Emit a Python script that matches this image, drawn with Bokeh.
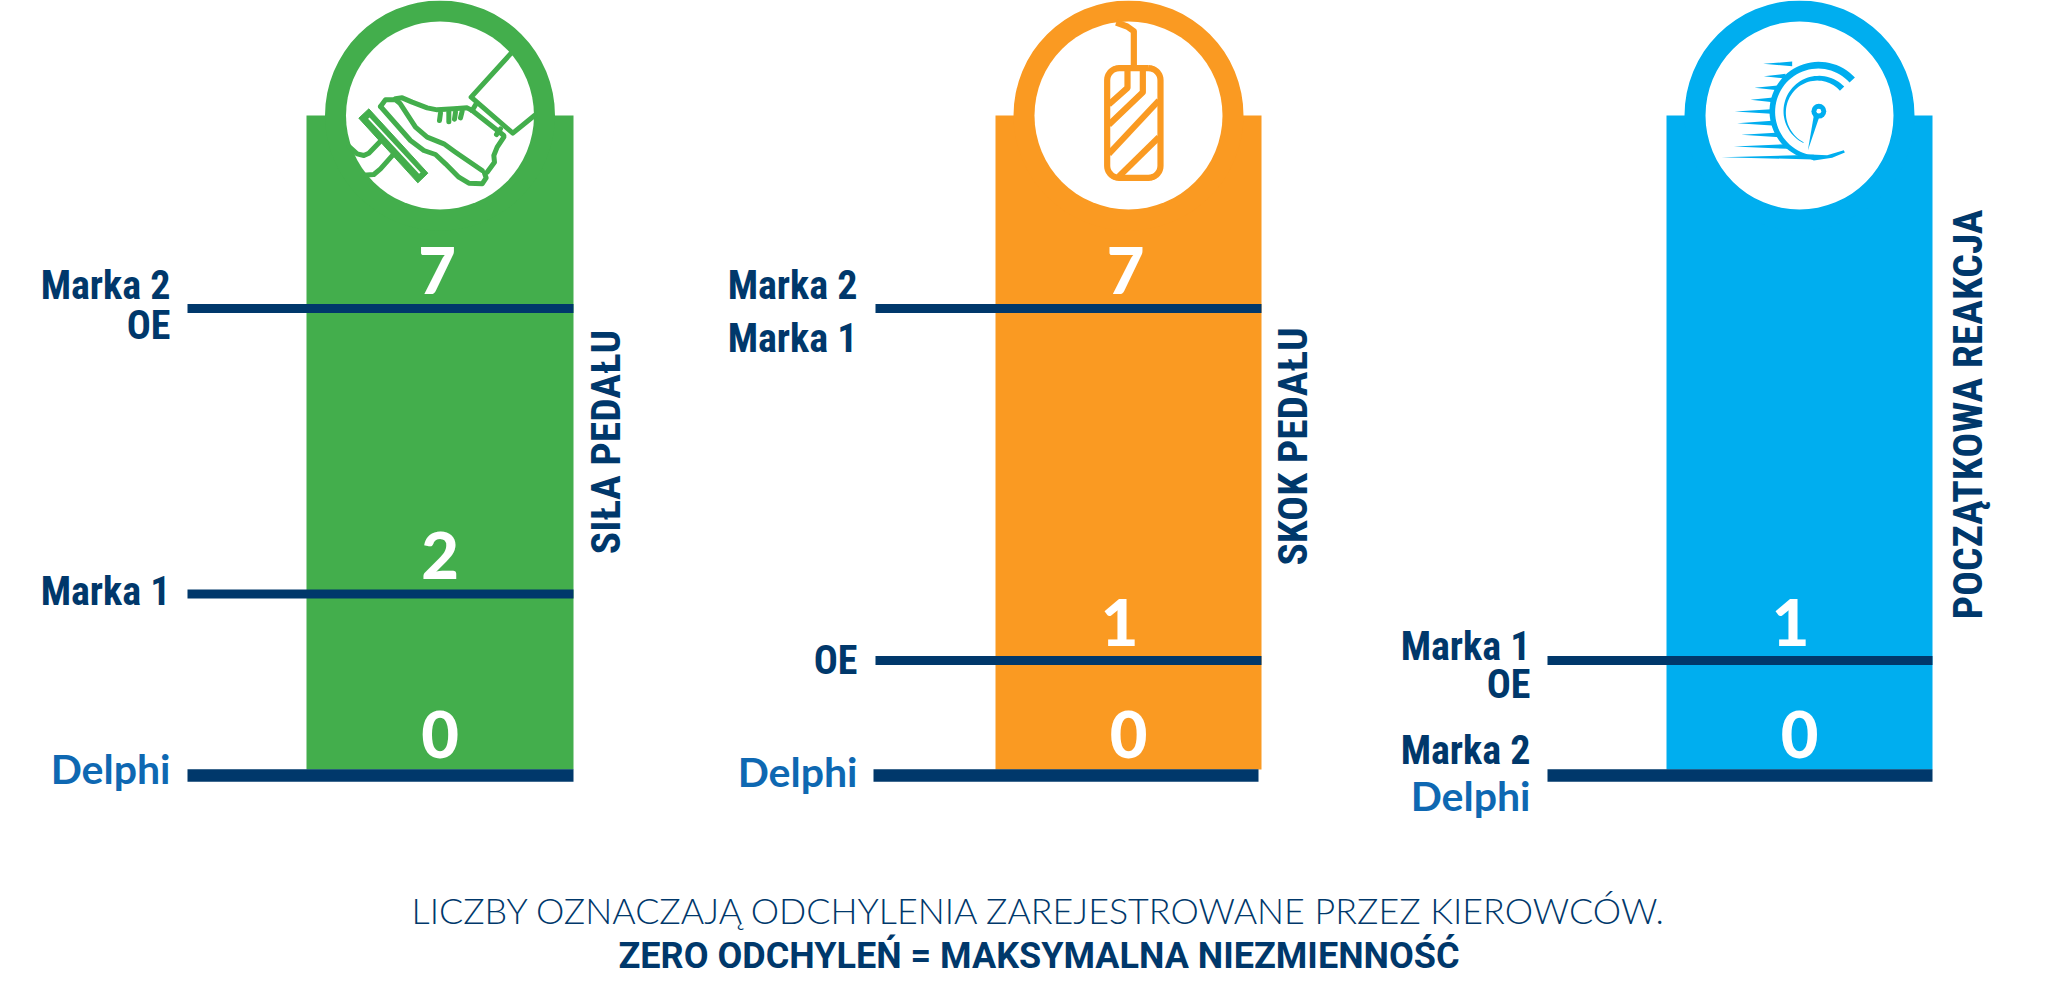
import numpy as np
from bokeh.plotting import figure
from bokeh.models import Range1d
from bokeh.core.properties import value
from bokeh.embed import file_html
from bokeh.resources import INLINE

# ---------- data ----------
METRICS = ["SIŁA PEDAŁU", "SKOK PEDAŁU", "POCZĄTKOWA REAKCJA"]
BRANDS_SILA = ["Marka 2", "OE", "Marka 1", "Delphi"]
VALUES_SILA = [7, 7, 2, 0]
BRANDS_SKOK = ["Marka 2", "Marka 1", "OE", "Delphi"]
VALUES_SKOK = [7, 7, 1, 0]
BRANDS_REAK = ["Marka 1", "OE", "Marka 2", "Delphi"]
VALUES_REAK = [1, 1, 0, 0]
FOOT_1 = "LICZBY OZNACZAJĄ ODCHYLENIA ZAREJESTROWANE PRZEZ KIEROWCÓW."
FOOT_2 = "ZERO ODCHYLEŃ = MAKSYMALNA NIEZMIENNOŚĆ"

# the original's vertical scale is not linear: value -> height above the baseline
LEVEL = {0: 0, 1: 115, 2: 181.5, 7: 467}

# ---------- layout ----------
BASE_Y = 775
BAR_BOTTOM = 769
GREEN, ORANGE, SKY = "#43AE4C", "#FA9A22", "#00AEEF"
NAVY, DELPHI = "#00386B", "#0E68B2"
COLORS = [GREEN, ORANGE, SKY]
BAR_L = [306, 995, 1666]
BAR_R = [573, 1261, 1932]
CX = [439.5, 1128, 1799]
LINE_L = [187, 875, 1547]
BASE_L = [187, 873, 1547]
BASE_R = [573, 1258, 1932]
LABEL_R = [170, 857, 1530]
LABEL_DY = [[-7, 33, 13.5, 9], [-7, 46, 16, 12], [2, 40, -9, 36]]
NUM_DX = [[-3, -3, 0, 0], [-3, -3, -9, 0], [-9, -9, 0, 0]]
TITLE_X = [622, 1309, 1984]
TITLE_Y = [441.5, 446, 414]
HEAD_Y, R_OUT, R_IN = 115, 115, 94
SANS = value("'Roboto Condensed', 'Liberation Sans Narrow', Lato")
WIDE = value("Roboto")
NUMF = value("'Lato Black', Lato")
LOGO = value("Lato")
LIGHT = value("'Lato Light', Lato")
BASE_FIX = 0.40  # em: lift so that the drawn baseline lands on the requested y


def y_of(v):
    return BASE_Y - LEVEL[v]


def put(x, y, s, size, **kw):
    if "angle" in kw:
        x = x - BASE_FIX * size
    else:
        y = y - BASE_FIX * size
    p.text([x], [y], text=[s], text_font_size=f"{size}px", text_baseline="alphabetic", **kw)


p = figure(width=2054, height=990, output_backend="svg", toolbar_location=None,
           x_range=Range1d(0, 2054), y_range=Range1d(990, 0), min_border=0)
p.axis.visible = False
p.grid.visible = False
p.outline_line_color = None
p.background_fill_color = "white"
p.border_fill_color = "white"

# ---------- bars and heads ----------
p.quad(left=BAR_L, right=BAR_R, top=[HEAD_Y] * 3, bottom=[BAR_BOTTOM] * 3, fill_color=COLORS, line_color=None)
p.circle(x=CX, y=[HEAD_Y] * 3, radius=R_OUT, fill_color=COLORS, line_color=None)
p.circle(x=CX, y=[HEAD_Y] * 3, radius=R_IN, fill_color="white", line_color=None)


def zoomed(path, ox, oy=0):
    a = np.array(path, dtype=float) / 3
    return (a[:, 0] + ox).tolist(), (a[:, 1] + oy).tolist()


def rounded(x0, y0, x1, y1, r):
    xs, ys = [], []
    for cx, cy, a0 in [(x1 - r, y0 + r, -90), (x1 - r, y1 - r, 0), (x0 + r, y1 - r, 90), (x0 + r, y0 + r, 180)]:
        t = np.radians(np.linspace(a0, a0 + 90, 10))
        xs += (cx + r * np.cos(t)).tolist()
        ys += (cy + r * np.sin(t)).tolist()
    return list(zip(xs + xs[:1], ys + ys[:1]))


# ---------- pedal-force pictogram ----------
SHOE_O = (340, 20)
SHOE_LINES = [
    [(25, 378), (50, 400), (70, 405), (85, 398), (122, 360)],
    [(68, 464), (100, 462), (120, 445), (160, 400)],
    [(120, 258), (210, 360), (250, 390), (285, 402), (315, 430), (355, 470), (385, 488), (425, 490), (437, 472), (432, 458)],
    [(120, 258), (135, 238), (165, 238), (178, 248), (225, 320), (260, 350), (310, 370), (345, 395), (425, 450)],
    [(165, 235), (185, 232), (215, 245), (260, 262), (290, 268), (340, 265), (380, 262), (395, 270)],
    [(395, 270), (490, 345)],
    [(490, 350), (470, 380), (460, 405), (462, 425), (440, 455)],
    [(512, 98), (392, 230), (517, 338), (582, 285)],
    [(408, 248), (395, 270)],
    [(480, 325), (468, 342)],
    [(300, 278), (297, 300)], [(325, 275), (325, 304)], [(345, 275), (342, 296)], [(365, 272), (360, 292)],
]
xs, ys = zip(*[zoomed(s, *SHOE_O) for s in SHOE_LINES])
p.multi_line(list(xs), list(ys), line_color=GREEN, line_width=5, line_join="round", line_cap="round")
px, py = zoomed([(85, 265), (55, 293), (232, 487), (262, 458)], *SHOE_O)
p.patch(px, py, fill_color=GREEN, line_color=GREEN, line_width=1, line_join="round")
px, py = zoomed([(85, 293), (238, 458)], *SHOE_O)
p.line(px, py, line_color="white", line_width=2)

# ---------- pedal-travel pictogram ----------
PEDAL_O = (950, 0)
PEDAL_LINES = [
    [(497, 66), (530, 78), (550, 92), (550, 200)],
    rounded(470, 203, 630, 532, 36),
    [(531, 205), (531, 262), (475, 312)],
    [(577, 205), (577, 275), (475, 373)],
    [(625, 300), (475, 460)],
    [(625, 410), (505, 528)],
]
xs, ys = zip(*[zoomed(s, *PEDAL_O) for s in PEDAL_LINES])
p.multi_line(list(xs), list(ys), line_color=ORANGE, line_width=6.2, line_join="round")

# ---------- initial-response pictogram ----------
GAUGE_O = (1650, 0)
G = (505, 332)
SPEED = [(338, 190, 425), (340, 227, 405), (312, 262, 382), (300, 298, 368), (253, 333, 362),
         (260, 368, 365), (272, 403, 388), (250, 438, 412), (213, 470, 490)]
tri_x, tri_y = [], []
for x0, yy, x1 in SPEED:
    a, b = zoomed([(x0, yy), (x1, yy - 7), (x1, yy + 7)], *GAUGE_O)
    tri_x.append(a)
    tri_y.append(b)


def tapered(a0, a1, r_o, r_i0, r_i1, n=50):
    t = np.radians(np.linspace(a0, a1, n))
    ri = np.linspace(r_i0, r_i1, n)
    pts = [(G[0] + r_o * np.cos(u), G[1] - r_o * np.sin(u)) for u in t]
    pts += [(G[0] + r * np.cos(u), G[1] - r * np.sin(u)) for u, r in zip(t[::-1], ri[::-1])]
    return pts


for path in [tapered(43, 255, 148, 126, 134), tapered(44, 244, 106, 88, 104),
             [(440, 458), (490, 480), (545, 472), (583, 456), (580, 449), (530, 464), (480, 462)],
             [(490, 345), (506, 350), (472, 450)]]:
    a, b = zoomed(path, *GAUGE_O)
    tri_x.append(a)
    tri_y.append(b)
p.patches(tri_x, tri_y, fill_color=SKY, line_color=None)
a, b = zoomed([G], *GAUGE_O)
p.circle(a, b, radius=7.4, fill_color=SKY, line_color=None)
p.circle(a, b, radius=2.4, fill_color="white", line_color=None)

# ---------- level lines, numbers, labels ----------
for i, (brands, vals) in enumerate([(BRANDS_SILA, VALUES_SILA), (BRANDS_SKOK, VALUES_SKOK), (BRANDS_REAK, VALUES_REAK)]):
    levels = sorted(set(vals))
    for v in levels:
        if v == 0:
            p.segment(BASE_L[i], y_of(v), BASE_R[i], y_of(v), line_color=NAVY, line_width=12.5)
        else:
            p.segment(LINE_L[i], y_of(v), BAR_R[i], y_of(v), line_color=NAVY, line_width=8.8)
        dx = NUM_DX[i][vals.index(v)]
        put(CX[i] + dx, y_of(v) - (15 if v == 0 else 12.5), str(v), 65, text_color="white",
            text_font=NUMF, text_font_style="normal", text_align="center")
    for b, v, dy in zip(brands, vals, LABEL_DY[i]):
        is_logo = b == "Delphi"
        put(LABEL_R[i], y_of(v) + dy, b, 41 if is_logo else 40, text_color=DELPHI if is_logo else NAVY,
            text_font=LOGO if is_logo else SANS, text_font_style="bold", text_align="right")
    put(TITLE_X[i], TITLE_Y[i], METRICS[i], 41.5, angle=np.pi / 2, text_color=NAVY,
        text_font=SANS, text_font_style="bold", text_align="center")

# ---------- footer ----------
put(1039, 924.5, FOOT_1, 35.8, text_color=NAVY, text_font=LIGHT, text_align="center")
put(1038.5, 969.5, FOOT_2, 36, text_color=NAVY, text_font=WIDE, text_font_style="bold", text_align="center")

open("out.html", "w").write(file_html(p, INLINE))
